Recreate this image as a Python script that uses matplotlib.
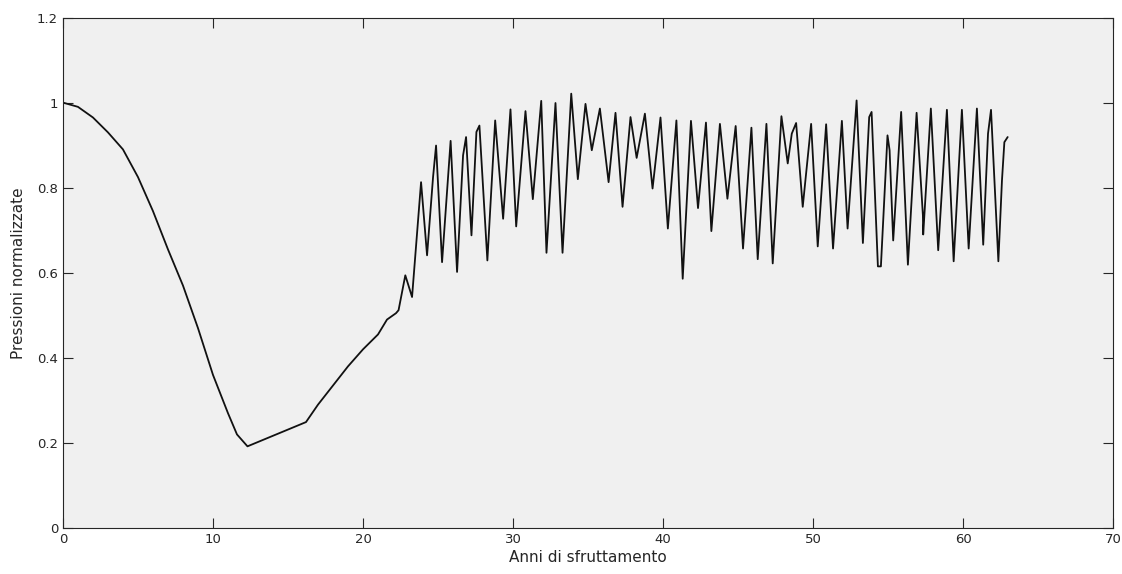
import matplotlib.pyplot as plt
import numpy as np

# pressure curve (years, normalised pressure)
anni = [0, 1, 2, 3, 4, 5, 6, 7, 8, 9, 10, 11, 11.6, 12.3,
        16.2, 17, 18, 19, 20, 21, 21.6, 22.2,
        22.37, 22.82, 23.27, 23.87, 24.27, 24.67, 24.87, 25.27, 25.84, 26.27,
        26.67, 26.87, 27.23, 27.56, 27.76, 28.29, 28.81, 29.34, 29.83, 30.21,
        30.83, 31.32, 31.88, 32.23, 32.83, 33.30, 33.88, 34.32, 34.83, 35.25,
        35.79, 36.37, 36.83, 37.30, 37.83, 38.24, 38.79, 39.30, 39.83, 40.32,
        40.89, 41.31, 41.86, 42.33, 42.86, 43.22, 43.79, 44.29, 44.84, 45.33,
        45.89, 46.31, 46.89, 47.31, 47.89, 48.31, 48.58, 48.87, 49.31, 49.87,
        50.31, 50.87, 51.33, 51.92, 52.30, 52.90, 53.32, 53.74, 53.90, 54.32,
        54.52, 54.96, 55.10, 55.34, 55.87, 56.32, 56.90, 57.32, 57.34, 57.85,
        58.34, 58.92, 59.37, 59.92, 60.37, 60.92, 61.34, 61.66, 61.86, 62.35,
        62.59, 62.75, 62.97]
pressioni = [1.0, 0.99, 0.965, 0.93, 0.89, 0.825, 0.745, 0.655, 0.57, 0.47, 0.36, 0.27, 0.22, 0.192,
             0.249, 0.29, 0.335, 0.38, 0.42, 0.455, 0.49, 0.505,
             0.512, 0.594, 0.543, 0.813, 0.641, 0.825, 0.899, 0.625, 0.910, 0.602,
             0.876, 0.919, 0.688, 0.931, 0.946, 0.629, 0.958, 0.727, 0.984, 0.709,
             0.980, 0.773, 1.004, 0.647, 0.999, 0.647, 1.021, 0.820, 0.997, 0.888,
             0.986, 0.813, 0.976, 0.755, 0.966, 0.870, 0.974, 0.798, 0.965, 0.704,
             0.958, 0.586, 0.957, 0.752, 0.953, 0.698, 0.950, 0.774, 0.945, 0.657,
             0.941, 0.632, 0.950, 0.622, 0.968, 0.857, 0.927, 0.952, 0.755, 0.950,
             0.662, 0.949, 0.657, 0.957, 0.704, 1.005, 0.670, 0.966, 0.978, 0.615,
             0.615, 0.923, 0.888, 0.676, 0.978, 0.619, 0.976, 0.735, 0.690, 0.986,
             0.653, 0.983, 0.627, 0.983, 0.657, 0.986, 0.666, 0.927, 0.983, 0.627,
             0.817, 0.907, 0.919]

xticks = [0, 10, 20, 30, 40, 50, 60, 70]
yticks = [0, 0.2, 0.4, 0.6, 0.8, 1, 1.2]
ytick_labels = ['0', '0.2', '0.4', '0.6', '0.8', '1', '1.2']

fig = plt.figure(figsize=(11.22, 5.74), dpi=100)
ax = fig.add_axes([0.0561, 0.0801, 0.936, 0.8894])
ax.set_facecolor('#f0f0f0')

ax.plot(anni, pressioni, color='#111111', linewidth=1.3,
        solid_joinstyle='round', solid_capstyle='round')

ax.set_xlim(0, 70)
ax.set_ylim(0, 1.2)
ax.set_xticks(xticks)
ax.set_yticks(yticks)
ax.set_yticklabels(ytick_labels)
ax.tick_params(direction='in', length=7.5, width=0.8, color='#262626',
               top=True, right=True, labelsize=9.5, labelcolor='#262626')
for s in ax.spines.values():
    s.set_color('#262626')
    s.set_linewidth(0.8)

ax.set_xlabel('Anni di sfruttamento', fontsize=11, color='#262626', labelpad=3)
ax.set_ylabel('Pressioni normalizzate', fontsize=11, color='#262626', labelpad=8)

fig.savefig('out.png', dpi=100)
